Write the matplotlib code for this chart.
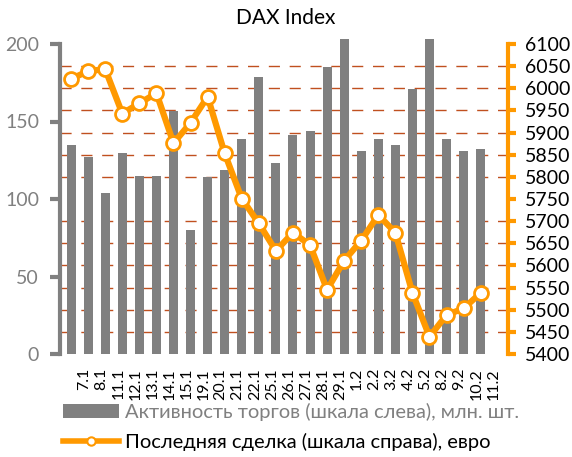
import matplotlib
matplotlib.use("Agg")
import matplotlib.pyplot as plt
from matplotlib.ticker import FixedLocator, MultipleLocator
from matplotlib.transforms import ScaledTranslation
from matplotlib.patches import Patch
from matplotlib.lines import Line2D

plt.rcParams['font.family'] = ['Lato', 'DejaVu Sans']

# trading days
dates = ["7.1", "8.1", "11.1", "12.1", "13.1", "14.1", "15.1", "19.1", "20.1",
         "21.1", "22.1", "25.1", "26.1", "27.1", "28.1", "29.1", "1.2", "2.2",
         "3.2", "4.2", "5.2", "8.2", "9.2", "10.2", "11.2"]
# trading activity, mln shares (left axis)
volume = [135, 127, 104, 130, 115, 115, 157, 80, 114, 119, 139, 179, 123,
          141, 144, 185, 203, 131, 139, 135, 171, 203, 139, 131, 132]
# last trade, euro (right axis)
price = [6021, 6039, 6043, 5943, 5966, 5989, 5876, 5922, 5981, 5853, 5751,
         5695, 5633, 5674, 5646, 5545, 5611, 5656, 5714, 5674, 5538, 5439,
         5488, 5503, 5538]

vol_label = "Активность торгов (шкала слева), млн. шт."
price_label = "Последняя сделка (шкала справа), евро"

GRAY = "#808080"
ORANGE = "#FF9900"
GRID = "#C0501F"

fig = plt.figure(figsize=(5.72, 4.57), dpi=100)
ax = fig.add_axes([60/572, 1 - 354/457, 448/572, 310/457])
ax2 = ax.twinx()

x = list(range(len(dates)))

# bars on the left scale
ax.bar(x, volume, width=0.53, color=GRAY, clip_on=False, zorder=2)
ax.set_ylim(0, 200)
ax.set_xlim(-0.65, 25.6)
ax.yaxis.set_major_locator(MultipleLocator(50))
# gridlines follow the right-axis ticks (15 levels)
ax.yaxis.set_minor_locator(FixedLocator([200 * k / 14 for k in range(15)]))
ax.grid(which='minor', axis='y', color=GRID, linestyle=(0, (8, 7)), linewidth=1)
ax.grid(which='major', visible=False)
ax.tick_params(axis='y', which='minor', length=0)
ax.tick_params(axis='y', which='major', colors=GRAY, labelsize=14,
               length=7, width=3, pad=8)
ax.set_axisbelow(True)

ax.set_xticks(x)
ax.set_xticklabels(dates, rotation=90, va='top', ha='center', fontsize=11.5)
ax.tick_params(axis='x', length=0, pad=10)
shift = ScaledTranslation(13/100, 0, fig.dpi_scale_trans)
for lbl in ax.get_xticklabels():
    lbl.set_transform(lbl.get_transform() + shift)

for side in ['top', 'bottom', 'right']:
    ax.spines[side].set_visible(False)
ax.spines['left'].set_color(GRAY)
ax.spines['left'].set_linewidth(3)

# line on the right scale
ax2.plot(x, price, color=ORANGE, linewidth=4.5, marker='o', markersize=10,
         markerfacecolor='white', markeredgecolor=ORANGE, markeredgewidth=2,
         clip_on=False, zorder=3)
ax2.set_ylim(5400, 6100)
ax2.yaxis.set_major_locator(MultipleLocator(50))
ax2.tick_params(axis='y', colors=ORANGE, labelcolor='black', labelsize=14,
                length=6, width=3, pad=6)
for side in ['top', 'bottom', 'left']:
    ax2.spines[side].set_visible(False)
ax2.spines['right'].set_color(ORANGE)
ax2.spines['right'].set_linewidth(3)

fig.text(0.5, 1 - 18/457, "DAX Index", ha='center', va='center', fontsize=15)

handles = [Patch(facecolor=GRAY, edgecolor='none'),
           Line2D([], [], color=ORANGE, linewidth=4, marker='o', markersize=6,
                  markerfacecolor='white', markeredgecolor=ORANGE,
                  markeredgewidth=1.5)]
leg = fig.legend(handles, [vol_label, price_label], loc='upper left',
                 bbox_to_anchor=(63/572, 1 - 403/457), frameon=False,
                 fontsize=14.5, handlelength=2.8, handletextpad=0.3,
                 labelspacing=0.6, borderaxespad=0, borderpad=0)
leg.get_texts()[0].set_color(GRAY)

fig.savefig("out.png", dpi=100)
